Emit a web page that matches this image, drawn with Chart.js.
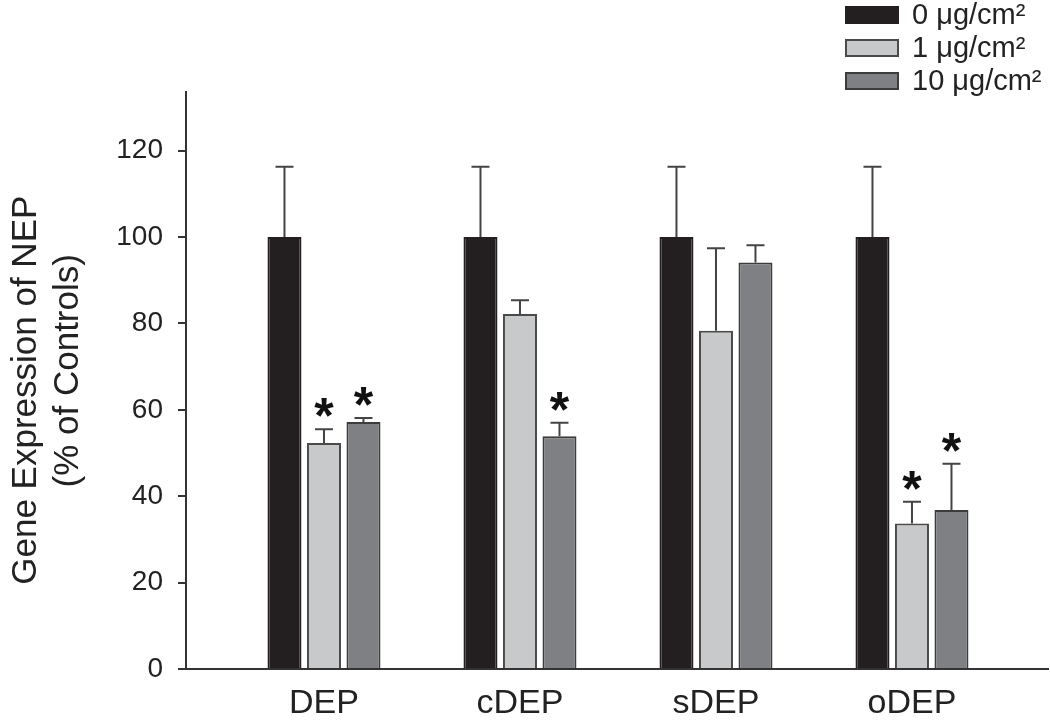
<!DOCTYPE html>
<html>
<head>
<meta charset="utf-8">
<script src="https://cdn.jsdelivr.net/npm/chart.js@4/dist/chart.umd.min.js"></script>
<style>
  html, body { margin: 0; padding: 0; background: #fff; }
  #wrap { position: relative; width: 1050px; height: 720px; }
  #legend { position: absolute; left: 845px; top: -2px; font-family: "Liberation Sans", Arial, Helvetica, sans-serif; font-size: 29px; color: #222; }
  .row { display: flex; align-items: center; height: 33px; }
  .box { width: 50px; height: 14px; margin-right: 13px; box-sizing: content-box; }
</style>
</head>
<body>
<div id="wrap">
  <canvas id="c" width="1050" height="720"></canvas>
  <div id="legend"></div>
</div>
<script>
// ---- data ----
const categories = ['DEP', 'cDEP', 'sDEP', 'oDEP'];
const seriesLabels = ['0 \u03bcg/cm\u00b2', '1 \u03bcg/cm\u00b2', '10 \u03bcg/cm\u00b2'];
const mean0 = [100, 100, 100, 100];
const err0  = [16.3, 16.3, 16.3, 16.3];
const mean1 = [52.3, 82.2, 78.3, 33.7];
const err1  = [3.2, 3.2, 19.1, 5.0];
const mean10 = [57.2, 53.9, 94.1, 36.8];
const err10  = [0.9, 3.1, 4.0, 10.7];
const sig0 = [false, false, false, false];
const sig1 = [true, false, false, true];
const sig10 = [true, true, false, true];
const yTicks = [0, 20, 40, 60, 80, 100, 120];

const FONT = '"Liberation Sans", Arial, Helvetica, sans-serif';
const fills = ['#231f20', '#c8c9cb', '#7f8083'];
const borders = ['#231f20', '#4a4a4a', '#3c3c3c'];

function mk(label, means, errs, sigs, i) {
  return {
    label,
    data: means.map((v, k) => ({ x: k, y: v })),
    errors: errs,
    sig: sigs,
    backgroundColor: fills[i],
    borderColor: borders[i],
    borderWidth: 2,
    categoryPercentage: 0.6046,
    barPercentage: 0.861
  };
}

const errorBars = {
  id: 'errorBars',
  afterDatasetsDraw(chart) {
    const ctx = chart.ctx;
    const y = chart.scales.y;
    chart.data.datasets.forEach((ds, di) => {
      const meta = chart.getDatasetMeta(di);
      meta.data.forEach((el, k) => {
        const m = ds.data[k].y, e = ds.errors[k];
        const top = y.getPixelForValue(m + e);
        const base = y.getPixelForValue(m);
        ctx.save();
        ctx.strokeStyle = '#444';
        ctx.lineWidth = 2;
        ctx.beginPath();
        ctx.moveTo(el.x, base);
        ctx.lineTo(el.x, top);
        ctx.moveTo(el.x - 9, top);
        ctx.lineTo(el.x + 9, top);
        ctx.stroke();
        if (ds.sig[k]) {
          ctx.fillStyle = '#111';
          ctx.font = 'bold 50px ' + FONT;
          ctx.textAlign = 'center';
          ctx.textBaseline = 'alphabetic';
          const mt = ctx.measureText('*');
          const cy = y.getPixelForValue(m + e + 5);
          const off = (mt.actualBoundingBoxAscent - mt.actualBoundingBoxDescent) / 2;
          ctx.fillText('*', el.x, cy + off);
        }
        ctx.restore();
      });
    });
  }
};

const chart = new Chart(document.getElementById('c'), {
  type: 'bar',
  data: {
    datasets: [
      mk(seriesLabels[0], mean0, err0, sig0, 0),
      mk(seriesLabels[1], mean1, err1, sig1, 1),
      mk(seriesLabels[2], mean10, err10, sig10, 2)
    ]
  },
  options: {
    responsive: false,
    animation: false,
    events: [],
    layout: { padding: { top: 92, right: 2, left: 0, bottom: 0 } },
    plugins: { legend: { display: false }, tooltip: { enabled: false } },
    scales: {
      x: {
        type: 'linear',
        offset: false,
        min: -0.704,
        max: 3.694,
        grid: { display: false, offset: false },
        border: { display: true, color: '#333', width: 2 },
        ticks: {
          stepSize: 1,
          includeBounds: false,
          autoSkip: false,
          maxRotation: 0,
          padding: 6,
          color: '#222',
          font: { family: FONT, size: 34 },
          callback: (v) => (Number.isInteger(v) && categories[v] !== undefined) ? categories[v] : ''
        },
        afterFit: (s) => { s.height = 51; }
      },
      y: {
        min: 0,
        max: 133.6,
        grid: { drawOnChartArea: false, drawTicks: true, tickLength: 8, color: '#333', lineWidth: 2 },
        border: { display: true, color: '#333', width: 2 },
        afterBuildTicks: (s) => { s.ticks = yTicks.map(v => ({ value: v })); },
        ticks: {
          includeBounds: false,
          padding: 15,
          color: '#222',
          font: { family: FONT, size: 28 }
        },
        title: {
          display: true,
          text: ['Gene Expression of NEP  ', '  (% of Controls)'],
          color: '#222',
          font: { family: FONT, size: 35 },
          padding: { top: 5, bottom: 0 }
        },
        afterFit: (s) => { s.width = 186; }
      }
    }
  },
  plugins: [errorBars]
});

// HTML legend built from the chart's datasets
const legend = document.getElementById('legend');
chart.data.datasets.forEach((ds) => {
  const row = document.createElement('div');
  row.className = 'row';
  const box = document.createElement('span');
  box.className = 'box';
  box.style.background = ds.backgroundColor;
  box.style.border = '2px solid ' + ds.borderColor;
  const txt = document.createElement('span');
  txt.textContent = ds.label;
  row.appendChild(box);
  row.appendChild(txt);
  legend.appendChild(row);
});
</script>
</body>
</html>
